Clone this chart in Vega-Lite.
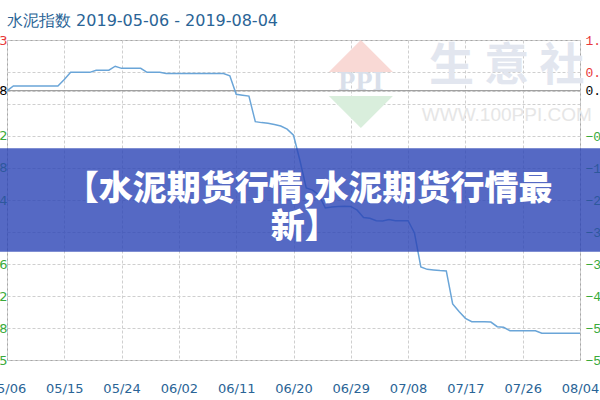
{
  "$schema": "https://vega.github.io/schema/vega-lite/v6.json",
  "width": 573,
  "height": 320,
  "autosize": "none",
  "padding": {"left": 7, "top": 40, "right": 20, "bottom": 40},
  "background": "white",
  "title": {
    "text": "水泥指数 2019-05-06 - 2019-08-04",
    "anchor": "start",
    "frame": "group",
    "color": "#2a6496",
    "font": "DejaVu Sans",
    "fontSize": 16,
    "fontWeight": "normal",
    "baseline": "alphabetic",
    "offset": -8
  },
  "config": {
    "view": {"stroke": "#a6a6a6", "strokeWidth": 1}
  },
  "datasets": {
    "one": [{}],
    "idx": [
      {"date": "2019-05-06", "index": 150.28},
      {"date": "2019-05-07", "index": 150.44},
      {"date": "2019-05-08", "index": 150.44},
      {"date": "2019-05-09", "index": 150.44},
      {"date": "2019-05-10", "index": 150.44},
      {"date": "2019-05-11", "index": 150.44},
      {"date": "2019-05-12", "index": 150.44},
      {"date": "2019-05-13", "index": 150.44},
      {"date": "2019-05-14", "index": 150.44},
      {"date": "2019-05-15", "index": 150.65},
      {"date": "2019-05-16", "index": 150.88},
      {"date": "2019-05-17", "index": 150.88},
      {"date": "2019-05-18", "index": 150.88},
      {"date": "2019-05-19", "index": 150.88},
      {"date": "2019-05-20", "index": 150.95},
      {"date": "2019-05-21", "index": 150.95},
      {"date": "2019-05-22", "index": 150.95},
      {"date": "2019-05-23", "index": 151.08},
      {"date": "2019-05-24", "index": 151.01},
      {"date": "2019-05-25", "index": 151.01},
      {"date": "2019-05-26", "index": 151.01},
      {"date": "2019-05-27", "index": 151.01},
      {"date": "2019-05-28", "index": 150.88},
      {"date": "2019-05-29", "index": 150.88},
      {"date": "2019-05-30", "index": 150.88},
      {"date": "2019-05-31", "index": 150.84},
      {"date": "2019-06-01", "index": 150.84},
      {"date": "2019-06-02", "index": 150.84},
      {"date": "2019-06-03", "index": 150.84},
      {"date": "2019-06-04", "index": 150.84},
      {"date": "2019-06-05", "index": 150.84},
      {"date": "2019-06-06", "index": 150.84},
      {"date": "2019-06-07", "index": 150.84},
      {"date": "2019-06-08", "index": 150.84},
      {"date": "2019-06-09", "index": 150.84},
      {"date": "2019-06-10", "index": 150.77},
      {"date": "2019-06-11", "index": 150.17},
      {"date": "2019-06-12", "index": 150.14},
      {"date": "2019-06-13", "index": 150.11},
      {"date": "2019-06-14", "index": 149.28},
      {"date": "2019-06-15", "index": 149.25},
      {"date": "2019-06-16", "index": 149.23},
      {"date": "2019-06-17", "index": 149.19},
      {"date": "2019-06-18", "index": 149.14},
      {"date": "2019-06-19", "index": 149.04},
      {"date": "2019-06-20", "index": 148.84},
      {"date": "2019-06-21", "index": 148.03},
      {"date": "2019-06-22", "index": 147.13},
      {"date": "2019-06-23", "index": 147.06},
      {"date": "2019-06-24", "index": 146.90},
      {"date": "2019-06-25", "index": 146.48},
      {"date": "2019-06-26", "index": 146.51},
      {"date": "2019-06-27", "index": 146.53},
      {"date": "2019-06-28", "index": 146.54},
      {"date": "2019-06-29", "index": 146.53},
      {"date": "2019-06-30", "index": 146.41},
      {"date": "2019-07-01", "index": 146.17},
      {"date": "2019-07-02", "index": 146.15},
      {"date": "2019-07-03", "index": 146.07},
      {"date": "2019-07-04", "index": 146.06},
      {"date": "2019-07-05", "index": 146.11},
      {"date": "2019-07-06", "index": 146.07},
      {"date": "2019-07-07", "index": 146.07},
      {"date": "2019-07-08", "index": 146.07},
      {"date": "2019-07-09", "index": 145.67},
      {"date": "2019-07-10", "index": 144.57},
      {"date": "2019-07-11", "index": 144.49},
      {"date": "2019-07-12", "index": 144.47},
      {"date": "2019-07-13", "index": 144.45},
      {"date": "2019-07-14", "index": 144.44},
      {"date": "2019-07-15", "index": 143.37},
      {"date": "2019-07-16", "index": 143.12},
      {"date": "2019-07-17", "index": 142.90},
      {"date": "2019-07-18", "index": 142.79},
      {"date": "2019-07-19", "index": 142.79},
      {"date": "2019-07-20", "index": 142.79},
      {"date": "2019-07-21", "index": 142.78},
      {"date": "2019-07-22", "index": 142.63},
      {"date": "2019-07-23", "index": 142.61},
      {"date": "2019-07-24", "index": 142.50},
      {"date": "2019-07-25", "index": 142.50},
      {"date": "2019-07-26", "index": 142.50},
      {"date": "2019-07-27", "index": 142.50},
      {"date": "2019-07-28", "index": 142.50},
      {"date": "2019-07-29", "index": 142.42},
      {"date": "2019-07-30", "index": 142.42},
      {"date": "2019-07-31", "index": 142.42},
      {"date": "2019-08-01", "index": 142.42},
      {"date": "2019-08-02", "index": 142.42},
      {"date": "2019-08-03", "index": 142.42},
      {"date": "2019-08-04", "index": 142.42}
    ]
  },
  "resolve": {"scale": {"y": "independent"}, "axis": {"y": "independent"}},
  "layer": [
    {
      "data": {"name": "one"},
      "mark": {"type": "rule", "color": "#8c8c8c", "strokeWidth": 1},
      "encoding": {
        "y": {
          "datum": 0,
          "type": "quantitative",
          "scale": {"domain": [-5.807, 1.093], "nice": false, "zero": false},
          "axis": {
            "orient": "right",
            "title": null,
            "values": [1.093, 0.403, 0, -0.287, -0.977, -1.667, -2.357, -3.047, -3.737, -4.427, -5.117, -5.807],
            "labelExpr": "datum.value == -0.287 ? '' : format(datum.value, '.2f') + '%'",
            "grid": true,
            "gridColor": "#cfcfcf",
            "gridDash": [3, 2],
            "gridWidth": 1,
            "domain": false,
            "ticks": false,
            "tickSize": 0,
            "labelPadding": 5,
            "labelFont": "Liberation Mono",
            "labelFontSize": 13,
            "labelFlush": false,
            "labelOverlap": false,
            "labelBaseline": "middle",
            "labelColor": {
              "condition": [
                {"test": "datum.value > 0.001", "value": "#e8393a"},
                {"test": "datum.value < -0.001", "value": "#3aaa3a"}
              ],
              "value": "#000000"
            }
          }
        }
      }
    },
    {
      "data": {"name": "one"},
      "mark": {"type": "point", "filled": true, "fill": "#f9d9d5", "opacity": 1, "strokeWidth": 0, "shape": "M-1,0.5L0,-0.5L1,0.5Z", "size": 4100},
      "encoding": {
        "x": {"datum": {"year": 2019, "month": 6, "date": 30, "hours": 14, "utc": true}, "type": "temporal", "scale": {"type": "utc", "domain": [{"year": 2019, "month": 5, "date": 6, "utc": true}, {"year": 2019, "month": 8, "date": 4, "utc": true}]}},
        "y": {"datum": 0.748, "type": "quantitative", "scale": {"domain": [-5.807, 1.093], "nice": false, "zero": false}, "axis": null}
      }
    },
    {
      "data": {"name": "one"},
      "mark": {"type": "point", "filled": true, "fill": "#d9eedc", "opacity": 1, "strokeWidth": 0, "shape": "M-1,-0.5L1,-0.5L0,0.5Z", "size": 4100},
      "encoding": {
        "x": {"datum": {"year": 2019, "month": 6, "date": 30, "hours": 14, "utc": true}, "type": "temporal", "scale": {"type": "utc", "domain": [{"year": 2019, "month": 5, "date": 6, "utc": true}, {"year": 2019, "month": 8, "date": 4, "utc": true}]}},
        "y": {"datum": -0.459, "type": "quantitative", "scale": {"domain": [-5.807, 1.093], "nice": false, "zero": false}, "axis": null}
      }
    },
    {
      "data": {"name": "one"},
      "mark": {"type": "text", "text": "PPI", "font": "Liberation Serif", "fontWeight": "bold", "fontSize": 28, "color": "#d9dfea", "baseline": "middle", "align": "center"},
      "encoding": {
        "x": {"datum": {"year": 2019, "month": 6, "date": 30, "hours": 14, "utc": true}, "type": "temporal", "scale": {"type": "utc", "domain": [{"year": 2019, "month": 5, "date": 6, "utc": true}, {"year": 2019, "month": 8, "date": 4, "utc": true}]}},
        "y": {"datum": 0.19, "type": "quantitative", "scale": {"domain": [-5.807, 1.093], "nice": false, "zero": false}, "axis": null}
      }
    },
    {
      "data": {"name": "one"},
      "mark": {"type": "text", "text": "生 意 社", "font": "Noto Sans CJK SC", "fontWeight": "bold", "fontSize": 45, "color": "#e2e6ef", "baseline": "middle", "align": "center"},
      "encoding": {
        "x": {"datum": {"year": 2019, "month": 7, "date": 23, "hours": 12, "utc": true}, "type": "temporal", "scale": {"type": "utc", "domain": [{"year": 2019, "month": 5, "date": 6, "utc": true}, {"year": 2019, "month": 8, "date": 4, "utc": true}]}},
        "y": {"datum": 0.511, "type": "quantitative", "scale": {"domain": [-5.807, 1.093], "nice": false, "zero": false}, "axis": null}
      }
    },
    {
      "data": {"name": "one"},
      "mark": {"type": "text", "text": "WWW.100PPI.COM", "font": "Liberation Sans", "fontSize": 19, "color": "#e6e6e6", "baseline": "middle", "align": "center"},
      "encoding": {
        "x": {"datum": {"year": 2019, "month": 7, "date": 23, "hours": 12, "utc": true}, "type": "temporal", "scale": {"type": "utc", "domain": [{"year": 2019, "month": 5, "date": 6, "utc": true}, {"year": 2019, "month": 8, "date": 4, "utc": true}]}},
        "y": {"datum": -0.524, "type": "quantitative", "scale": {"domain": [-5.807, 1.093], "nice": false, "zero": false}, "axis": null}
      }
    },
    {
      "data": {"name": "idx"},
      "mark": {"type": "line", "color": "#6aa5d8", "strokeWidth": 1.5, "interpolate": "linear"},
      "encoding": {
        "x": {
          "field": "date",
          "type": "temporal",
          "scale": {"type": "utc", "domain": [{"year": 2019, "month": 5, "date": 6, "utc": true}, {"year": 2019, "month": 8, "date": 4, "utc": true}]},
          "axis": {
            "title": null,
            "values": [
              {"year": 2019, "month": 5, "date": 6, "utc": true},
              {"year": 2019, "month": 5, "date": 15, "utc": true},
              {"year": 2019, "month": 5, "date": 24, "utc": true},
              {"year": 2019, "month": 6, "date": 2, "utc": true},
              {"year": 2019, "month": 6, "date": 11, "utc": true},
              {"year": 2019, "month": 6, "date": 20, "utc": true},
              {"year": 2019, "month": 6, "date": 29, "utc": true},
              {"year": 2019, "month": 7, "date": 8, "utc": true},
              {"year": 2019, "month": 7, "date": 17, "utc": true},
              {"year": 2019, "month": 7, "date": 26, "utc": true},
              {"year": 2019, "month": 8, "date": 4, "utc": true}
            ],
            "format": "%m/%d",
            "grid": true,
            "gridColor": "#cfcfcf",
            "gridDash": [3, 2],
            "domain": false,
            "ticks": false,
            "tickSize": 0,
            "labelPadding": 22,
            "labelBaseline": "top",
            "labelColor": "#2a6496",
            "labelFont": "DejaVu Sans",
            "labelFontSize": 13,
            "labelFlush": false,
            "labelOverlap": false
          }
        },
        "y": {
          "field": "index",
          "type": "quantitative",
          "scale": {"domain": [141.55, 151.93], "nice": false, "zero": false},
          "axis": {
            "orient": "left",
            "title": null,
            "values": [151.93, 150.28, 148.82, 147.78, 146.74, 144.66, 143.62, 142.58, 141.55],
            "format": ".2f",
            "grid": false,
            "domain": false,
            "ticks": false,
            "tickSize": 0,
            "labelPadding": 0,
            "labelFont": "DejaVu Sans",
            "labelFontSize": 13,
            "labelFlush": false,
            "labelOverlap": false,
            "labelBaseline": "middle",
            "labelColor": {
              "condition": [
                {"test": "datum.value > 150.3", "value": "#e8393a"},
                {"test": "datum.value < 150.2", "value": "#3aaa3a"}
              ],
              "value": "#000000"
            }
          }
        }
      }
    },
    {
      "data": {"name": "one"},
      "mark": {"type": "rect", "fill": "#2b44b5", "fillOpacity": 0.8, "strokeWidth": 0},
      "encoding": {
        "x": {"datum": {"year": 2019, "month": 5, "date": 4, "utc": true}, "type": "temporal", "scale": {"type": "utc", "domain": [{"year": 2019, "month": 5, "date": 6, "utc": true}, {"year": 2019, "month": 8, "date": 4, "utc": true}]}},
        "x2": {"datum": {"year": 2019, "month": 8, "date": 8, "utc": true}},
        "y": {"datum": -1.242, "type": "quantitative", "scale": {"domain": [-5.807, 1.093], "nice": false, "zero": false}, "axis": null},
        "y2": {"datum": -3.472}
      }
    },
    {
      "data": {"name": "one"},
      "mark": {"type": "text", "text": "【水泥期货行情,水泥期货行情最", "font": "Noto Sans CJK SC", "fontWeight": 900, "fontSize": 34, "color": "#ffffff", "baseline": "middle", "align": "center"},
      "encoding": {
        "x": {"datum": {"year": 2019, "month": 6, "date": 22, "hours": 9, "utc": true}, "type": "temporal", "scale": {"type": "utc", "domain": [{"year": 2019, "month": 5, "date": 6, "utc": true}, {"year": 2019, "month": 8, "date": 4, "utc": true}]}},
        "y": {"datum": -2.141, "type": "quantitative", "scale": {"domain": [-5.807, 1.093], "nice": false, "zero": false}, "axis": null}
      }
    },
    {
      "data": {"name": "one"},
      "mark": {"type": "text", "text": "新】", "font": "Noto Sans CJK SC", "fontWeight": 900, "fontSize": 34, "color": "#ffffff", "baseline": "middle", "align": "center"},
      "encoding": {
        "x": {"datum": {"year": 2019, "month": 6, "date": 21, "hours": 18, "utc": true}, "type": "temporal", "scale": {"type": "utc", "domain": [{"year": 2019, "month": 5, "date": 6, "utc": true}, {"year": 2019, "month": 8, "date": 4, "utc": true}]}},
        "y": {"datum": -2.961, "type": "quantitative", "scale": {"domain": [-5.807, 1.093], "nice": false, "zero": false}, "axis": null}
      }
    }
  ]
}
